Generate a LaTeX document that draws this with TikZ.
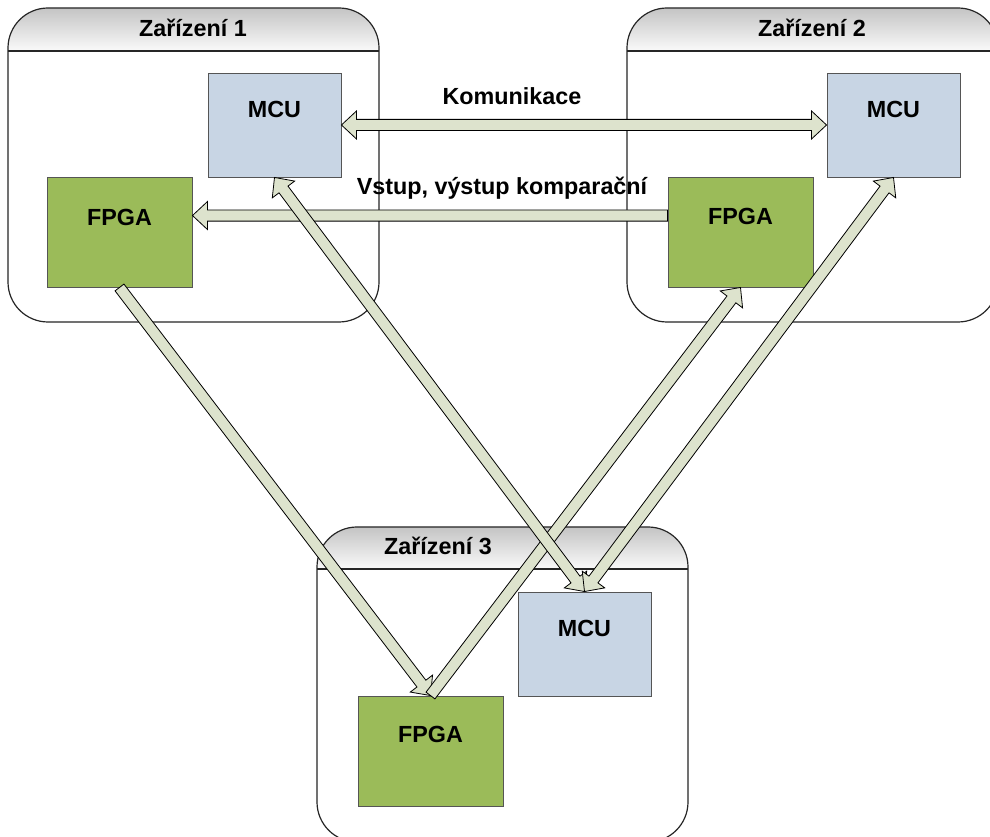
\documentclass[tikz,border=0pt]{standalone}
\usepackage{fontspec}
\setmainfont{Liberation Sans}
\usetikzlibrary{calc,fit}

\definecolor{mcublue}{RGB}{200,213,228}
\definecolor{fpgagreen}{RGB}{155,187,89}
\definecolor{arrowfill}{RGB}{221,227,205}
\definecolor{boxline}{RGB}{85,85,85}
\definecolor{headtop}{RGB}{196,196,196}
\definecolor{headbot}{RGB}{250,250,250}

% wide hollow arrow, single head at the second point
\newcommand\fatsingle[2]{%
  \coordinate (fa-c) at ($(#2)!11.25pt!(#1)$);
  \draw[fatarrow] ($(#1)!4.2pt!90:(#2)$) -- ($(fa-c)!4.2pt!90:(#2)$)
    -- ($(fa-c)!10.5pt!90:(#2)$) -- (#2) -- ($(fa-c)!10.5pt!-90:(#2)$)
    -- ($(fa-c)!4.2pt!-90:(#2)$) -- ($(#1)!4.2pt!-90:(#2)$) -- cycle;}

% wide hollow arrow, heads at both points
\newcommand\fatdouble[2]{%
  \coordinate (fa-p) at ($(#1)!11.25pt!(#2)$);
  \coordinate (fa-q) at ($(#2)!11.25pt!(#1)$);
  \draw[fatarrow] (#1) -- ($(fa-p)!10.5pt!90:(#2)$) -- ($(fa-p)!4.2pt!90:(#2)$)
    -- ($(fa-q)!4.2pt!90:(#2)$) -- ($(fa-q)!10.5pt!90:(#2)$) -- (#2)
    -- ($(fa-q)!10.5pt!-90:(#2)$) -- ($(fa-q)!4.2pt!-90:(#2)$)
    -- ($(fa-p)!4.2pt!-90:(#2)$) -- ($(fa-p)!10.5pt!-90:(#2)$) -- cycle;}

% device container: left, top, right, bottom, header bottom
\newcommand\device[5]{%
  \begin{scope}
    \clip[rounded corners=30pt] (#1,#2) rectangle (#3,#4);
    \fill[white] (#1,#2) rectangle (#3,#4);
    \shade[top color=headtop, bottom color=headbot] (#1,#2) rectangle (#3,#5);
  \end{scope}
  \draw[line width=0.9pt, black!85] (#1,#5) -- (#3,#5);
  \draw[line width=0.9pt, black!85, rounded corners=30pt] (#1,#2) rectangle (#3,#4);}

\tikzset{
  mcubox/.style={draw=boxline, line width=0.7pt, fill=mcublue, inner sep=0pt},
  fpgabox/.style={draw=boxline, line width=0.7pt, fill=fpgagreen, inner sep=0pt},
  lbl/.style={font=\fontsize{17.5}{20}\selectfont\bfseries, anchor=base, inner sep=0pt},
  fatarrow/.style={draw=black, line width=0.6pt, fill=arrowfill, line join=miter},
}

\begin{document}
\begin{tikzpicture}[x=0.75pt, y=-0.75pt]
\useasboundingbox (0,0) rectangle (990,837);
\fill[white] (0,0) rectangle (990,837);

% containers
\device{8}{8}{379}{322}{51}
\device{627}{8}{998}{322}{51}
\device{317}{527}{688}{842}{569}

\node[lbl] (t1) at (193,37) {Zařízení 1};
\node[lbl] (t2) at (812,37) {Zařízení 2};
\node[lbl] (t3) at (438,555) {Zařízení 3};

% device 1
\node[mcubox, fit={(208,73) (341,177)}] (mcu1) {};
\node[fpgabox, fit={(47,177) (192,287)}] (fpga1) {};
\node[lbl] (mcu1l) at (274.5,118) {MCU};
\node[lbl] (fpga1l) at (119.5,226) {FPGA};

% device 2
\node[mcubox, fit={(827,73) (960,177)}] (mcu2) {};
\node[fpgabox, fit={(668,177) (813,287)}] (fpga2) {};
\node[lbl] (mcu2l) at (893.5,118) {MCU};
\node[lbl] (fpga2l) at (740.5,225) {FPGA};

% device 3
\node[mcubox, fit={(518,592) (651,696)}] (mcu3) {};
\node[fpgabox, fit={(358,696) (503,806)}] (fpga3) {};
\node[lbl] (mcu3l) at (584.5,637) {MCU};
\node[lbl] (fpga3l) at (430.5,743) {FPGA};

% link labels
\node[lbl] (komlbl) at (512,105) {Komunikace};
\node[lbl] (vstlbl) at (502,195) {Vstup, výstup komparační};

% connections
\coordinate (vs-a) at ($(fpga2.north west)+(0,39)$);
\coordinate (vs-b) at ($(fpga1.north east)+(0,39)$);

\fatdouble{mcu1.east}{mcu2.west}
\fatsingle{vs-a}{vs-b}
\fatsingle{fpga1.south}{fpga3.north}
\fatsingle{fpga3.north}{fpga2.south}
\fatdouble{mcu1.south}{mcu3.north}
\fatdouble{mcu2.south}{mcu3.north}
\end{tikzpicture}
\end{document}
